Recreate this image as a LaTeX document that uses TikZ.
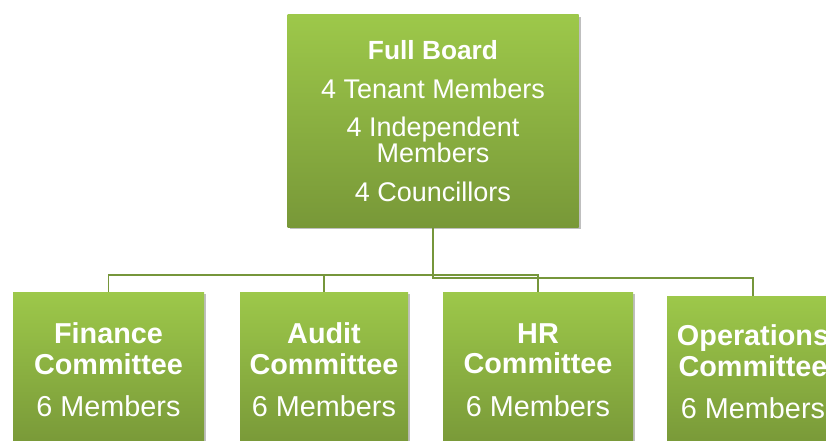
\documentclass[tikz,border=0pt]{standalone}
\usepackage{xcolor}
\usepackage{fontspec}
\setmainfont{Liberation Sans}
\usepackage{tikz}
\usetikzlibrary{shapes,arrows,positioning,calc,shadows}
\definecolor{boardlight}{HTML}{9DC84A}
\definecolor{boarddark}{HTML}{789838}
\definecolor{boardline}{HTML}{76963B}

\begin{document}
\begin{tikzpicture}[x=1pt, y=1pt,
        orgbox/.style={rectangle, top color=boardlight, bottom color=boarddark,
              draw=none, text=white, align=center, inner sep=0pt,
              drop shadow={shadow xshift=2pt, shadow yshift=-2pt, opacity=0.25, fill=black}},
        toptext/.style={font=\fontsize{27}{25}\selectfont},
        subtext/.style={font=\fontsize{28.8}{30.6}\selectfont},
        orglink/.style={draw=boardline, line width=1.3pt}]
        \clip (0,0) rectangle (826,-441);
        % top box
        \node[orgbox, toptext, minimum width=291pt, minimum height=212pt] (fullboard) at (433,-121) {
            {\fontsize{26.3}{25}\selectfont\textbf{Full Board}}\\[13.6pt]
            4 Tenant Members\\[13.6pt]
            4 Independent\\
            Members\\[13.6pt]
            4 Councillors
        };
        % committees
        \node[orgbox, subtext, minimum width=191pt, minimum height=156pt] (finance) at (108.5,-370) {
            \textbf{Finance}\\ \textbf{Committee}\\[12.1pt] 6 Members};
        \node[orgbox, subtext, minimum width=168pt, minimum height=156pt] (audit) at (324,-370) {
            \textbf{Audit}\\ \textbf{Committee}\\[12.1pt] 6 Members};
        \node[orgbox, subtext, minimum width=190pt, minimum height=156pt] (hr) at (538,-370) {
            \textbf{HR}\\ \textbf{Committee}\\[12.1pt] 6 Members};
        \node[orgbox, subtext, minimum width=172pt, minimum height=152pt] (operations) at (753,-372) {
            \textbf{Operations}\\ \textbf{Committee}\\[12.1pt] 6 Members};
        % connectors
        \coordinate (split) at (433,-275);
        \coordinate (splitlow) at (433,-278);
        \draw[orglink] (fullboard.south) -- (splitlow) -| (operations.north);
        \draw[orglink] (split) -| (finance.north);
        \draw[orglink] (split) -| (audit.north);
        \draw[orglink] (split) -| (hr.north);
    \end{tikzpicture}
\end{document}
